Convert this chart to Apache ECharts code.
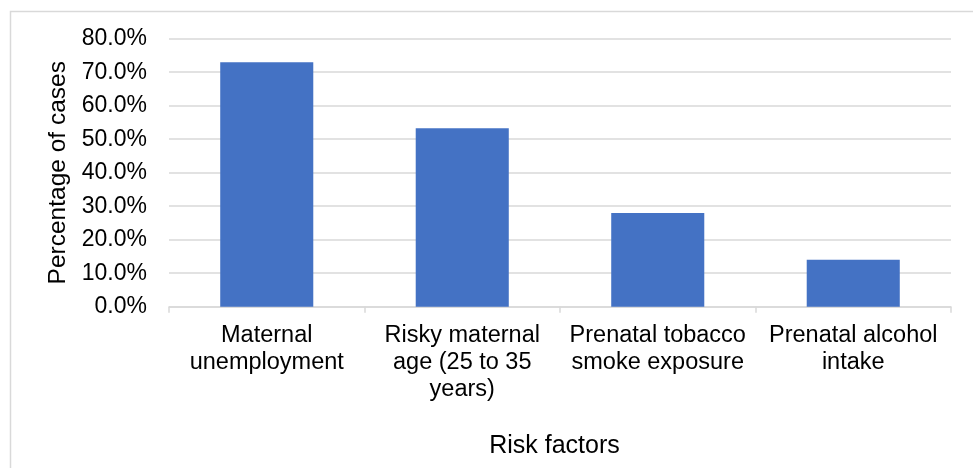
<!DOCTYPE html>
<html>
<head>
<meta charset="utf-8">
<script src="https://cdn.jsdelivr.net/npm/echarts@6/dist/echarts.min.js"></script>
<style>
  html, body { margin: 0; padding: 0; background: #ffffff; }
  #chart { width: 973px; height: 468px; }
</style>
</head>
<body>
<div id="chart"></div>
<script>
// Risk factors and the share of cases in which each was present
const categories = [
  'Maternal\nunemployment',
  'Risky maternal\nage (25 to 35\nyears)',
  'Prenatal tobacco\nsmoke exposure',
  'Prenatal alcohol\nintake'
];
const percentages = [73.0, 53.3, 28.0, 14.0];
const yTicks = [0, 10, 20, 30, 40, 50, 60, 70, 80];

const FONT = '"Liberation Sans", Arial, sans-serif';
const chart = echarts.init(document.getElementById('chart'), null, { renderer: 'canvas' });

chart.setOption({
  animation: false,
  backgroundColor: '#ffffff',
  graphic: [{
    // chart area frame
    type: 'rect',
    left: 8, top: 9,
    shape: { width: 1100, height: 600 },
    style: { fill: 'none', stroke: '#d9d9d9', lineWidth: 1.5 },
    silent: true
  }],
  grid: {
    left: 169, right: 22, top: 38.7, bottom: 161.3,
    containLabel: false,
    outerBoundsMode: 'none'
  },
  xAxis: {
    type: 'category',
    data: categories,
    name: 'Risk factors',
    nameLocation: 'middle',
    nameGap: 127,
    nameTextStyle: { fontFamily: FONT, fontSize: 25, color: '#000000', padding: [0, 11, 0, 0] },
    axisLine: { lineStyle: { color: '#d9d9d9', width: 1.5 } },
    axisTick: { show: true, alignWithLabel: false, length: 6, lineStyle: { color: '#d9d9d9', width: 1.5 } },
    axisLabel: {
      interval: 0,
      margin: 15,
      fontFamily: FONT,
      fontSize: 23.5,
      lineHeight: 27,
      color: '#000000',
      align: 'center'
    }
  },
  yAxis: {
    type: 'value',
    min: yTicks[0],
    max: yTicks[yTicks.length - 1],
    interval: yTicks[1] - yTicks[0],
    name: 'Percentage of cases',
    nameLocation: 'middle',
    nameGap: 92,
    nameTextStyle: { fontFamily: FONT, fontSize: 24.5, color: '#000000' },
    axisLine: { show: false },
    axisTick: { show: false },
    splitLine: { lineStyle: { color: '#d9d9d9', width: 1.5 } },
    axisLabel: {
      margin: 22,
      fontFamily: FONT,
      fontSize: 23,
      color: '#000000',
      formatter: v => v.toFixed(1) + '%'
    }
  },
  series: [{
    type: 'bar',
    data: percentages,
    barCategoryGap: '52.4%',
    itemStyle: { color: '#4472c4' }
  }]
});
</script>
</body>
</html>
